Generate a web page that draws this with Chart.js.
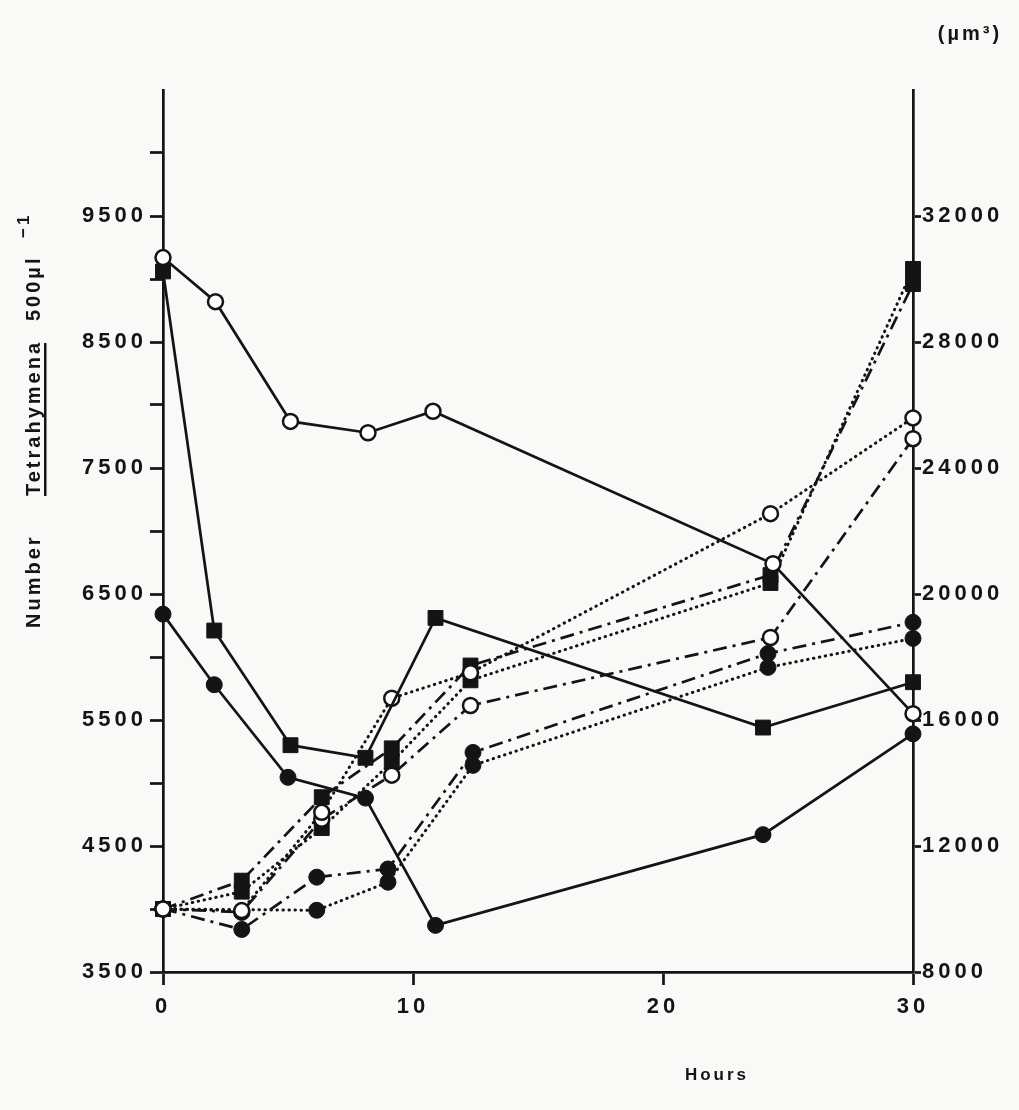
<!DOCTYPE html>
<html>
<head>
<meta charset="utf-8">
<script src="https://cdn.jsdelivr.net/npm/chart.js@4.4.1/dist/chart.umd.min.js"></script>
<style>
  html, body { margin: 0; padding: 0; background: #f9f9f7; }
</style>
</head>
<body>
<canvas id="growthChart" width="1019" height="1110"></canvas>
<script>
const ink = '#141414';
const fontFamily = '"Liberation Sans", Arial, sans-serif';

// Number of Tetrahymena per 500 µl (left axis), solid lines
const countOpenHours   = [0, 2.1, 5.1, 8.2, 10.8, 24.4, 30];
const countOpen        = [9170, 8820, 7870, 7780, 7950, 6740, 5550];
const countSquareHours = [0, 2.05, 5.1, 8.1, 10.9, 24.0, 30];
const countSquare      = [9060, 6210, 5300, 5200, 6310, 5440, 5800];
const countFilledHours = [0, 2.05, 5.0, 8.1, 10.9, 24.0, 30];
const countFilled      = [6340, 5780, 5045, 4880, 3870, 4590, 5390];

// cell volume in µm3 (right axis), dotted and dash-dot lines
const volHours          = [0, 3.15, 6.35, 9.15, 12.3, 24.3, 30];
const volSquareDash     = [10000, 10900, 13550, 15100, 17730, 20600, 29840];
const volSquareDot      = [10000, 10550, 12570, 14660, 17260, 20350, 30320];
const volOpenDot        = [10000, 9950, 13070, 16690, 17500, 22550, 25590];
const volOpenDash       = [10000, 9900, 12850, 14250, 16460, 18620, 24930];
const volFilledHours    = [0, 3.15, 6.15, 9.0, 12.4, 24.2, 30];
const volFilledDash     = [10000, 9350, 11010, 11270, 14970, 18110, 19100];
const volFilledDotHours = [0, 6.15, 9.0, 12.4, 24.2, 30];
const volFilledDot      = [10000, 9960, 10850, 14560, 17670, 18590];

// tick labels
const countTicks = [3500, 4500, 5500, 6500, 7500, 8500, 9500];
const volTicks   = [8000, 12000, 16000, 20000, 24000, 28000, 32000];
const hourTicks  = [0, 10, 20, 30];

const dotted  = [0.5, 5.5];
const dashDot = [14, 6, 3, 6];

function pts(hours, values) {
    return hours.map((h, i) => ({ x: h, y: values[i] }));
}

function series(hours, values, axis, dash, marker) {
    const ds = {
        data: pts(hours, values),
        yAxisID: axis,
        showLine: true,
        tension: 0,
        clip: false,
        borderColor: ink,
        borderWidth: dash === dotted ? 3 : 2.7,
        borderDash: dash,
        borderCapStyle: dash === dotted ? 'round' : 'butt',
        pointBorderColor: ink,
        pointBackgroundColor: ink,
        pointBorderWidth: 1,
        pointStyle: 'circle',
        pointRadius: 8
    };
    if (marker === 'open') {
        ds.pointBackgroundColor = '#ffffff';
        ds.pointBorderWidth = 2.5;
        ds.pointRadius = 7.5;
    } else if (marker === 'square') {
        ds.pointStyle = 'rect';
        ds.pointRadius = 10.5;
    }
    return ds;
}

const tickFont = { family: fontFamily, size: 22, weight: 'bold' };

// letter spacing like the lettering of the original
const spacing = {
    id: 'spacing',
    beforeLayout(chart) { chart.ctx.letterSpacing = '4px'; },
    beforeDraw(chart) { chart.ctx.letterSpacing = '4px'; }
};

const extraText = {
    id: 'extraText',
    afterDraw(chart) {
        const ctx = chart.ctx;
        ctx.save();
        ctx.fillStyle = ink;
        ctx.textBaseline = 'alphabetic';
        ctx.textAlign = 'left';
        ctx.letterSpacing = '3px';

        // left axis title, rotated
        ctx.save();
        ctx.translate(40, 628);
        ctx.rotate(-Math.PI / 2);
        ctx.font = 'bold 20px ' + fontFamily;
        ctx.fillText('Number', 0, 0);
        ctx.fillText('Tetrahymena', 132, 0);
        const tw = ctx.measureText('Tetrahymena').width;
        ctx.fillRect(132, 4, tw - 3, 2.5);
        ctx.fillText('500µl', 307, 0);
        ctx.font = 'bold 17px ' + fontFamily;
        ctx.fillText('−1', 390, -11);
        ctx.restore();

        // right axis unit
        ctx.font = 'bold 20px ' + fontFamily;
        ctx.textAlign = 'center';
        ctx.fillText('(µm³)', 970, 40);

        // x axis title
        ctx.font = 'bold 17px ' + fontFamily;
        ctx.fillText('Hours', 717, 1080);
        ctx.restore();
    }
};

new Chart(document.getElementById('growthChart'), {
    type: 'scatter',
    data: {
        datasets: [
            series(countOpenHours, countOpen, 'yCount', [], 'open'),
            series(countSquareHours, countSquare, 'yCount', [], 'square'),
            series(countFilledHours, countFilled, 'yCount', [], 'filled'),
            series(volHours, volOpenDot, 'yVol', dotted, 'open'),
            series(volHours, volOpenDash, 'yVol', dashDot, 'open'),
            series(volHours, volSquareDash, 'yVol', dashDot, 'square'),
            series(volHours, volSquareDot, 'yVol', dotted, 'square'),
            series(volFilledHours, volFilledDash, 'yVol', dashDot, 'filled'),
            series(volFilledDotHours, volFilledDot, 'yVol', dotted, 'filled')
        ]
    },
    options: {
        responsive: false,
        animation: false,
        devicePixelRatio: 1,
        layout: { padding: { top: 90, left: 0, right: 0, bottom: 0 } },
        plugins: {
            legend: { display: false },
            tooltip: { enabled: false }
        },
        scales: {
            x: {
                type: 'linear',
                position: 'bottom',
                min: 0,
                max: 30,
                ticks: {
                    stepSize: 10,
                    color: ink,
                    font: tickFont,
                    padding: 9,
                    callback: v => hourTicks.includes(v) ? String(v) : ''
                },
                grid: { drawOnChartArea: false, tickLength: 13, tickWidth: 2.7, color: ink },
                border: { color: ink, width: 2.7 },
                afterFit: s => { s.height = 138; }
            },
            yCount: {
                type: 'linear',
                position: 'left',
                min: 3500,
                max: 10500,
                ticks: {
                    stepSize: 500,
                    autoSkip: false,
                    color: ink,
                    font: tickFont,
                    padding: 3,
                    callback: v => countTicks.includes(v) ? String(v) : ''
                },
                grid: {
                    drawOnChartArea: false,
                    tickLength: 13,
                    tickWidth: 2.7,
                    color: c => (c.tick && c.tick.value === 10500) ? 'rgba(0,0,0,0)' : ink
                },
                border: { color: ink, width: 2.7 },
                afterFit: s => { s.width = 163; }
            },
            yVol: {
                type: 'linear',
                position: 'right',
                min: 8000,
                max: 36000,
                ticks: {
                    stepSize: 4000,
                    autoSkip: false,
                    color: ink,
                    font: tickFont,
                    padding: 1,
                    callback: v => volTicks.includes(v) ? String(v) : ''
                },
                grid: {
                    drawOnChartArea: false,
                    tickLength: 8,
                    tickWidth: 2.7,
                    color: c => (c.tick && c.tick.value === 36000) ? 'rgba(0,0,0,0)' : ink
                },
                border: { color: ink, width: 2.7 },
                afterFit: s => { s.width = 106; }
            }
        }
    },
    plugins: [spacing, extraText]
});
</script>
</body>
</html>
